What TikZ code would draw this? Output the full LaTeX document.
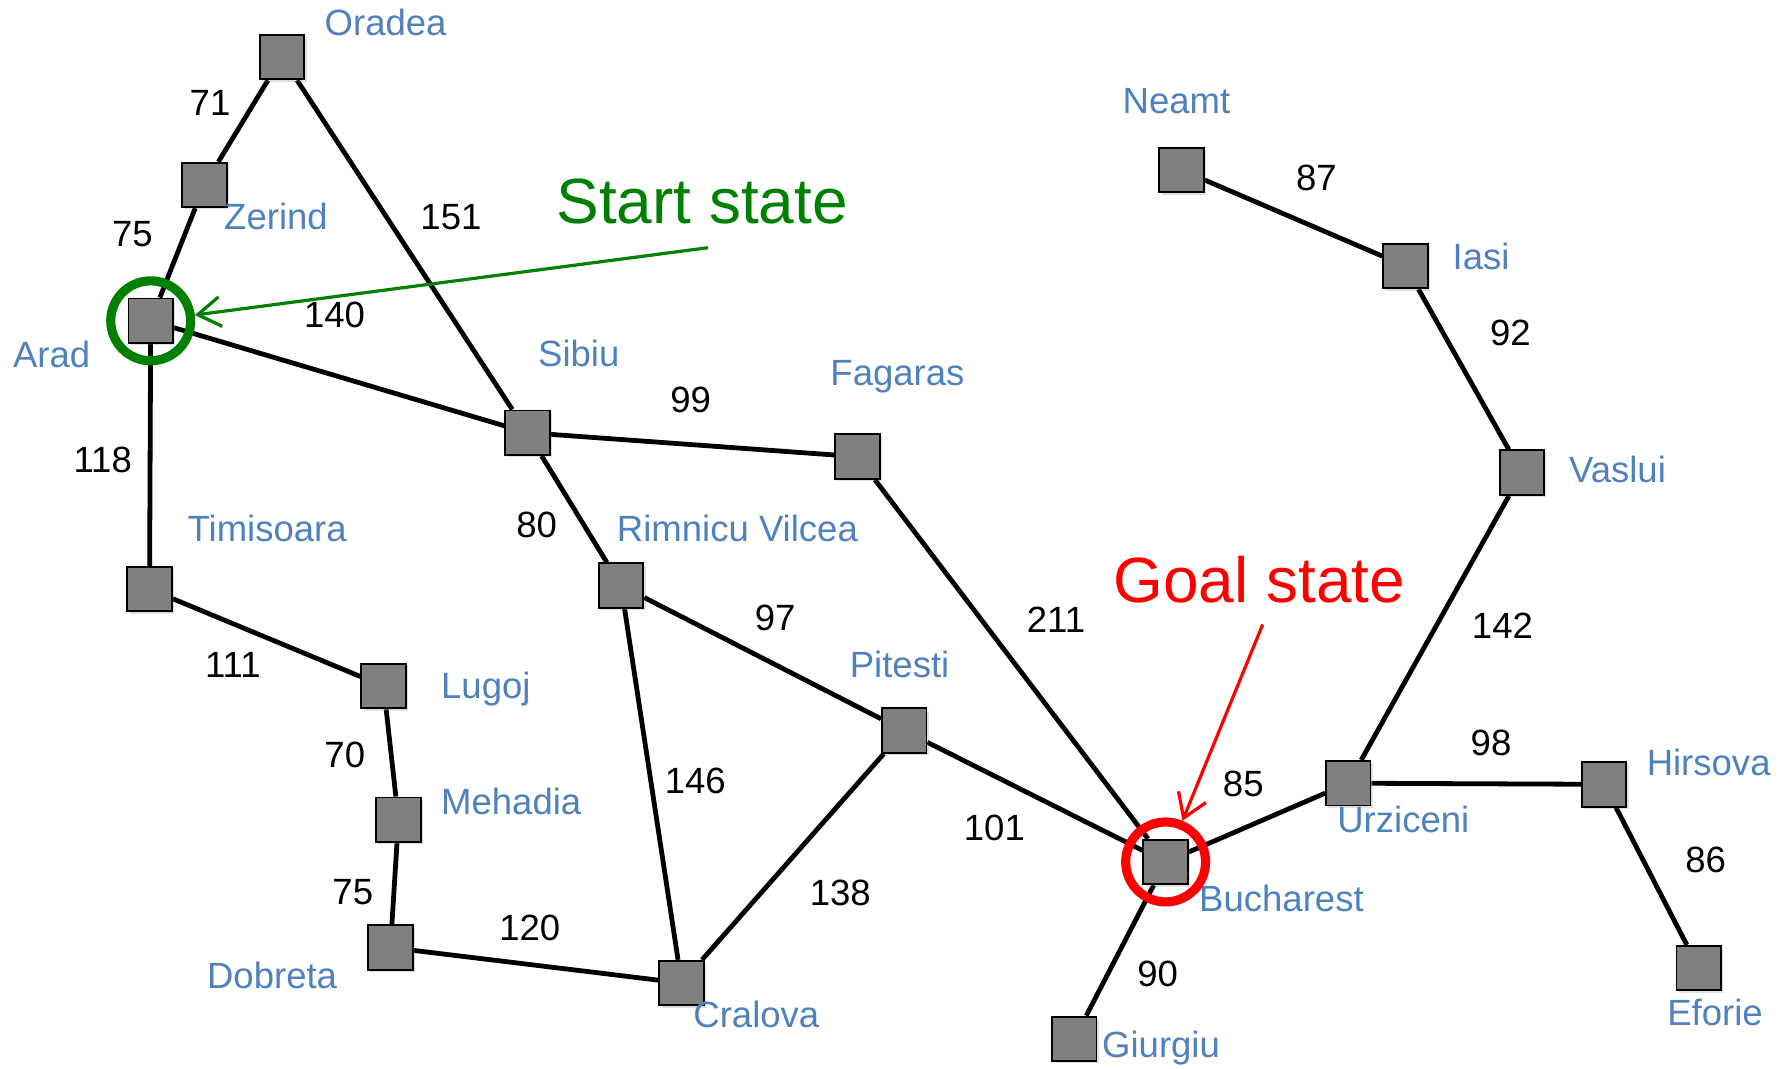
\documentclass[tikz,border=0pt]{standalone}
\usepackage{fontspec}
\setmainfont{Liberation Sans}
\usetikzlibrary{arrows.meta,shadows,backgrounds}
\definecolor{lblue}{RGB}{79,129,189}
\definecolor{sgreen}{RGB}{0,128,0}
\begin{document}
\begin{tikzpicture}[x=0.5pt,y=-0.5pt,
 city/.style={draw=black, line width=0.8pt, fill=gray, minimum size=19.5pt, inner sep=0pt, rectangle,
   drop shadow={shadow xshift=1pt, shadow yshift=-1pt, opacity=0.25}},
 road/.style={line width=2.1pt},
 lbl/.style={text=lblue, font=\fontsize{16}{19}\selectfont, inner sep=0pt, anchor=base west},
 num/.style={font=\fontsize{16}{19}\selectfont, inner sep=0pt},
 big/.style={font=\fontsize{28}{33}\selectfont, inner sep=0pt, anchor=base west},
 ring/.style={circle, line width=4pt, minimum size=35pt, inner sep=0pt},
 pointer/.style={line width=1.4pt, -{Straight Barb[length=10pt,width=13pt]}}]
\useasboundingbox (0,0) rectangle (1560,936);
% cities
\node[city] (oradea) at (247,50) {};
\node[city] (zerind) at (179,162) {};
\node[city] (arad) at (132,281) {};
\node[city] (sibiu) at (462,379) {};
\node[city] (fagaras) at (751,400) {};
\node[city] (timisoara) at (131,516) {};
\node[city] (rimnicu) at (544,513) {};
\node[city] (lugoj) at (336,601) {};
\node[city] (mehadia) at (349,718) {};
\node[city] (dobreta) at (342,830) {};
\node[city] (cralova) at (597,861) {};
\node[city] (pitesti) at (792,640) {};
\node[city] (bucharest) at (1021,755) {};
\node[city] (giurgiu) at (941,910) {};
\node[city] (urziceni) at (1181,686) {};
\node[city] (hirsova) at (1405,687) {};
\node[city] (eforie) at (1488,848) {};
\node[city] (vaslui) at (1333,414) {};
\node[city] (iasi) at (1231,233) {};
\node[city] (neamt) at (1035,149) {};
% roads
\begin{scope}[on background layer]
\draw[road] (oradea) -- (zerind);
\draw[road] (oradea) -- (sibiu);
\draw[road] (zerind) -- (arad);
\draw[road] (arad) -- (sibiu);
\draw[road] (arad) -- (timisoara);
\draw[road] (timisoara) -- (lugoj);
\draw[road] (lugoj) -- (mehadia);
\draw[road] (mehadia) -- (dobreta);
\draw[road] (dobreta) -- (cralova);
\draw[road] (cralova) -- (rimnicu);
\draw[road] (cralova) -- (pitesti);
\draw[road] (sibiu) -- (rimnicu);
\draw[road] (sibiu) -- (fagaras);
\draw[road] (rimnicu) -- (pitesti);
\draw[road] (fagaras) -- (bucharest);
\draw[road] (pitesti) -- (bucharest);
\draw[road] (bucharest) -- (giurgiu);
\draw[road] (bucharest) -- (urziceni);
\draw[road] (urziceni) -- (hirsova);
\draw[road] (hirsova) -- (eforie);
\draw[road] (urziceni) -- (vaslui);
\draw[road] (vaslui) -- (iasi);
\draw[road] (iasi) -- (neamt);
\end{scope}
% distances
\node[num] (d71) at (184,90) {71};
\node[num] (d75a) at (116,205) {75};
\node[num] (d151) at (395,190) {151};
\node[num] (d140) at (293,276) {140};
\node[num] (d99) at (605,350) {99};
\node[num] (d118) at (90,403) {118};
\node[num] (d80) at (470,460) {80};
\node[num] (d97) at (679,541) {97};
\node[num] (d211) at (925,543) {211};
\node[num] (d111) at (204,582) {111};
\node[num] (d70) at (302,661) {70};
\node[num] (d146) at (609,684) {146};
\node[num] (d101) at (871,725) {101};
\node[num] (d85) at (1089,687) {85};
\node[num] (d75b) at (309,781) {75};
\node[num] (d138) at (736,782) {138};
\node[num] (d120) at (464,813) {120};
\node[num] (d90) at (1014,853) {90};
\node[num] (d98) at (1306,651) {98};
\node[num] (d86) at (1494,753) {86};
\node[num] (d142) at (1316,548) {142};
\node[num] (d92) at (1323,292) {92};
\node[num] (d87) at (1153,156) {87};
% city names
\node[lbl] (oradeaL) at (284,31) {Oradea};
\node[lbl] (zerindL) at (196,201) {Zerind};
\node[lbl] (aradL) at (11,322) {Arad};
\node[lbl] (sibiuL) at (471,321) {Sibiu};
\node[lbl] (fagarasL) at (727,338) {Fagaras};
\node[lbl] (timisoaraL) at (164,474) {Timisoara};
\node[lbl] (rimnicuL) at (540,474) {Rimnicu Vilcea};
\node[lbl] (pitestiL) at (744,593) {Pitesti};
\node[lbl] (lugojL) at (386,612) {Lugoj};
\node[lbl] (mehadiaL) at (386,713) {Mehadia};
\node[lbl] (dobretaL) at (181,866) {Dobreta};
\node[lbl] (cralovaL) at (607,900) {Cralova};
\node[lbl] (giurgiuL) at (965,926) {Giurgiu};
\node[lbl] (bucharestL) at (1050,798) {Bucharest};
\node[lbl] (urziceniL) at (1171,729) {Urziceni};
\node[lbl] (hirsovaL) at (1442,679) {Hirsova};
\node[lbl] (eforieL) at (1460,898) {Eforie};
\node[lbl] (vasluiL) at (1374,423) {Vaslui};
\node[lbl] (iasiL) at (1272,236) {Iasi};
\node[lbl] (neamtL) at (983,99) {Neamt};
% start / goal
\node[ring, draw=sgreen] (startc) at (arad) {};
\node[ring, draw=red] (goalc) at (bucharest) {};
\node[big, text=sgreen] (startL) at (487,196) {Start state};
\node[big, text=red] (goalL) at (975,528) {Goal state};
\coordinate (startfrom) at (620,217);
\coordinate (goalfrom) at (1106,547);
\draw[pointer, sgreen] (startfrom) -- (startc);
\draw[pointer, red] (goalfrom) -- (goalc);
\end{tikzpicture}
\end{document}
